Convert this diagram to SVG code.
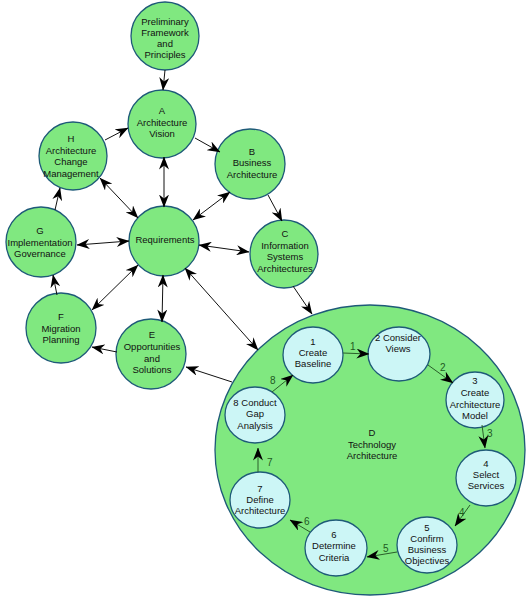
<svg xmlns="http://www.w3.org/2000/svg" width="531" height="600" viewBox="0 0 531 600">
<style>
text{font-family:"Liberation Sans",Arial,sans-serif;font-size:9.5px;fill:#111;text-anchor:middle}
.n{fill:#80e880;stroke:#1e5a78;stroke-width:1.3}
.s{fill:#ccf6f6;stroke:#1e5a78;stroke-width:1.3}
.e{stroke:#111;stroke-width:1;fill:none;marker-end:url(#ah)}
.b{marker-start:url(#ah)}
.i{stroke:#2a5e2a;stroke-width:1;fill:none;marker-end:url(#ah)}
.l{fill:#1f5a1f;text-anchor:start;font-size:10px}
</style>
<defs>
<marker id="ah" viewBox="0 0 13 10" markerWidth="13" markerHeight="10" refX="12.5" refY="5" orient="auto-start-reverse" markerUnits="userSpaceOnUse">
<path d="M0,0 L13,5 L0,10 L4,5 z" fill="#000"/>
</marker>
</defs>
<rect width="531" height="600" fill="#fff"/>
<g id="D"><ellipse class="n" cx="370" cy="450" rx="155" ry="145"/><text x="372" y="436">D</text><text x="372" y="448">Technology</text><text x="372" y="459">Architecture</text></g>
<g id="P"><circle class="n" cx="165" cy="36" r="34"/><text x="165" y="25">Preliminary</text><text x="165" y="36">Framework</text><text x="165" y="47">and</text><text x="165" y="58">Principles</text></g>
<g id="A"><circle class="n" cx="162" cy="124" r="34"/><text x="162" y="114">A</text><text x="162" y="125.5">Architecture</text><text x="162" y="137">Vision</text></g>
<g id="B"><circle class="n" cx="250" cy="164" r="35"/><text x="252" y="155">B</text><text x="252" y="166">Business</text><text x="252" y="177.5">Architecture</text></g>
<g id="H"><circle class="n" cx="73" cy="156" r="34"/><text x="71" y="142">H</text><text x="71" y="153.5">Architecture</text><text x="71" y="165">Change</text><text x="71" y="176.5">Management</text></g>
<g id="G"><circle class="n" cx="41" cy="242" r="35"/><text x="40" y="234">G</text><text x="40" y="245.5">Implementation</text><text x="40" y="257">Governance</text></g>
<g id="R"><circle class="n" cx="164" cy="241" r="35"/><text x="165" y="243">Requirements</text></g>
<g id="C"><circle class="n" cx="284" cy="254" r="34"/><text x="285" y="237">C</text><text x="285" y="248.5">Information</text><text x="285" y="260">Systems</text><text x="285" y="271.5">Architectures</text></g>
<g id="F"><circle class="n" cx="61" cy="328" r="35"/><text x="61" y="320">F</text><text x="61" y="331.5">Migration</text><text x="61" y="343">Planning</text></g>
<g id="E"><circle class="n" cx="151" cy="354" r="35"/><text x="152" y="338">E</text><text x="152" y="350">Opportunities</text><text x="152" y="361.5">and</text><text x="152" y="373">Solutions</text></g>
<g id="S1"><ellipse class="s" cx="313" cy="355" rx="30" ry="28"/><text x="313" y="344.5">1</text><text x="313" y="355.5">Create</text><text x="313" y="366.5">Baseline</text></g>
<g id="S2"><ellipse class="s" cx="399" cy="354" rx="31" ry="27"/><text x="398" y="340.5">2 Consider</text><text x="398" y="351.5">Views</text></g>
<g id="S3"><ellipse class="s" cx="475" cy="400" rx="29" ry="28"/><text x="475" y="383.5">3</text><text x="475" y="395.5">Create</text><text x="475" y="407.5">Architecture</text><text x="475" y="419">Model</text></g>
<g id="S4"><ellipse class="s" cx="486" cy="478" rx="30" ry="28"/><text x="486" y="466.5">4</text><text x="486" y="477.5">Select</text><text x="486" y="489">Services</text></g>
<g id="S5"><ellipse class="s" cx="427" cy="545" rx="30" ry="28"/><text x="427" y="530.5">5</text><text x="427" y="541.5">Confirm</text><text x="427" y="552.5">Business</text><text x="427" y="564">Objectives</text></g>
<g id="S6"><ellipse class="s" cx="336" cy="548" rx="31" ry="28"/><text x="334" y="537.5">6</text><text x="334" y="549">Determine</text><text x="334" y="560.5">Criteria</text></g>
<g id="S7"><ellipse class="s" cx="260" cy="500" rx="30" ry="28"/><text x="260" y="491.5">7</text><text x="260" y="502.5">Define</text><text x="260" y="514">Architecture</text></g>
<g id="S8"><ellipse class="s" cx="255" cy="415" rx="30" ry="28"/><text x="255" y="405.5">8 Conduct</text><text x="255" y="417">Gap</text><text x="255" y="428.5">Analysis</text></g>
<g id="connectors">
<line class="e" x1="165" y1="70" x2="163" y2="90"/>
<line class="e" x1="195" y1="138" x2="220" y2="152"/>
<line class="e" x1="105" y1="140" x2="128" y2="128"/>
<line class="e b" x1="164" y1="157" x2="164" y2="207"/>
<line class="e b" x1="230" y1="192" x2="193" y2="220"/>
<line class="e b" x1="100" y1="178" x2="138" y2="218"/>
<line class="e" x1="268" y1="195" x2="282" y2="221"/>
<line class="e b" x1="199" y1="245" x2="249" y2="252"/>
<line class="e b" x1="77" y1="245" x2="129" y2="241"/>
<line class="e" x1="55" y1="210" x2="60" y2="188"/>
<line class="e" x1="57" y1="295" x2="53" y2="275"/>
<line class="e b" x1="138" y1="265" x2="92" y2="310"/>
<line class="e b" x1="163" y1="275" x2="162" y2="322"/>
<line class="e b" x1="185" y1="268" x2="258" y2="350"/>
<line class="e" x1="293" y1="286" x2="312" y2="314"/>
<line class="e" x1="232" y1="382" x2="186" y2="367"/>
<line class="e" x1="117" y1="352" x2="92" y2="347"/>
<line class="i" x1="343" y1="353" x2="369" y2="354"/>
<line class="i" x1="428" y1="365" x2="453" y2="383"/>
<line class="i" x1="482" y1="425" x2="485" y2="448"/>
<line class="i" x1="470" y1="505" x2="455" y2="526"/>
<line class="i" x1="397" y1="552" x2="367" y2="557"/>
<line class="i" x1="310" y1="532" x2="290" y2="520"/>
<line class="i" x1="258" y1="472" x2="258" y2="448"/>
<line class="i" x1="272" y1="392" x2="293" y2="375"/>
<text class="l" x="350" y="350">1</text>
<text class="l" x="440" y="371">2</text>
<text class="l" x="487" y="437">3</text>
<text class="l" x="459" y="516">4</text>
<text class="l" x="383" y="552">5</text>
<text class="l" x="304" y="525">6</text>
<text class="l" x="267" y="466">7</text>
<text class="l" x="270" y="384">8</text>
</g>
</svg>
